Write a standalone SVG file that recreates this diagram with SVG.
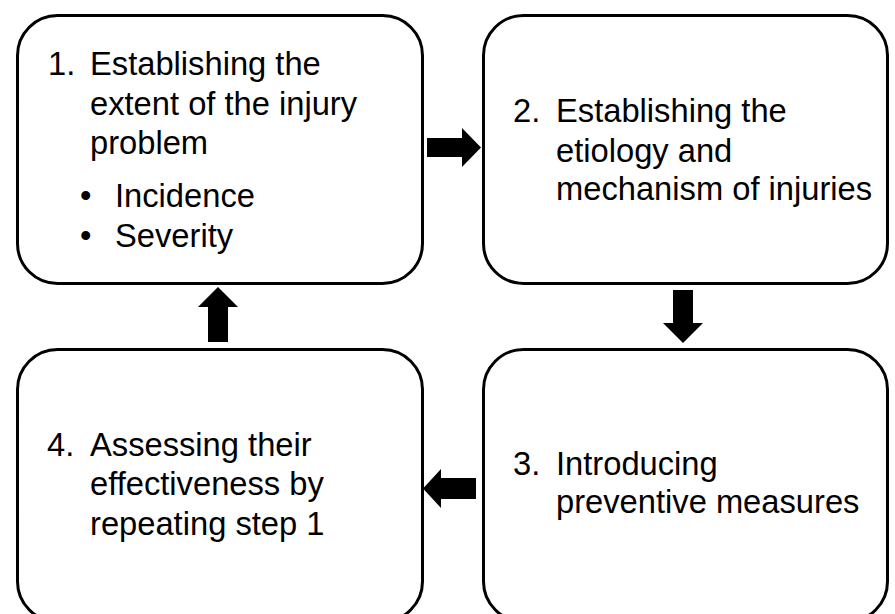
<svg xmlns="http://www.w3.org/2000/svg" width="895" height="614" viewBox="0 0 895 614">
<style>
.box{fill:#fff;stroke:#000;stroke-width:3}
.t{font-family:"Liberation Sans",Arial,sans-serif;font-size:32.7px;fill:#000}
.arrow{fill:#000}
</style>
<rect width="895" height="614" fill="#fff"/>
<g id="node1">
<rect class="box" x="17.5" y="15.5" width="405" height="268" rx="40" ry="40"/>
<text class="t" x="48" y="75">1.</text>
<text class="t" x="90" y="75">Establishing the</text>
<text class="t" x="90" y="115">extent of the injury</text>
<text class="t" x="90" y="154">problem</text>
<text class="t" x="80" y="207">•</text>
<text class="t" x="115" y="207">Incidence</text>
<text class="t" x="80" y="247">•</text>
<text class="t" x="115" y="247">Severity</text>
</g>
<g id="node2">
<rect class="box" x="483.5" y="15.5" width="404" height="268" rx="40" ry="40"/>
<text class="t" x="513" y="122">2.</text>
<text class="t" x="556" y="122">Establishing the</text>
<text class="t" x="556" y="162">etiology and</text>
<text class="t" x="556" y="200">mechanism of injuries</text>
</g>
<g id="node3">
<rect class="box" x="483.5" y="349.5" width="404" height="272" rx="40" ry="40"/>
<text class="t" x="513" y="475">3.</text>
<text class="t" x="556" y="475">Introducing</text>
<text class="t" x="556" y="513">preventive measures</text>
</g>
<g id="node4">
<rect class="box" x="17.5" y="349.5" width="405" height="272" rx="40" ry="40"/>
<text class="t" x="47" y="456">4.</text>
<text class="t" x="90" y="456">Assessing their</text>
<text class="t" x="90" y="495">effectiveness by</text>
<text class="t" x="90" y="535">repeating step 1</text>
</g>
<g id="connectors">
<polygon class="arrow" points="427,138 462,138 462,128 481,147.5 462,167 462,157 427,157"/>
<polygon class="arrow" points="673,290 693,290 693,323 703,323 683,343 663,323 673,323"/>
<polygon class="arrow" points="208,342 228,342 228,307 238,307 218,287 198,307 208,307"/>
<polygon class="arrow" points="476,478 476,499 441,499 441,508 423,488.5 441,469 441,478"/>
</g>
</svg>
